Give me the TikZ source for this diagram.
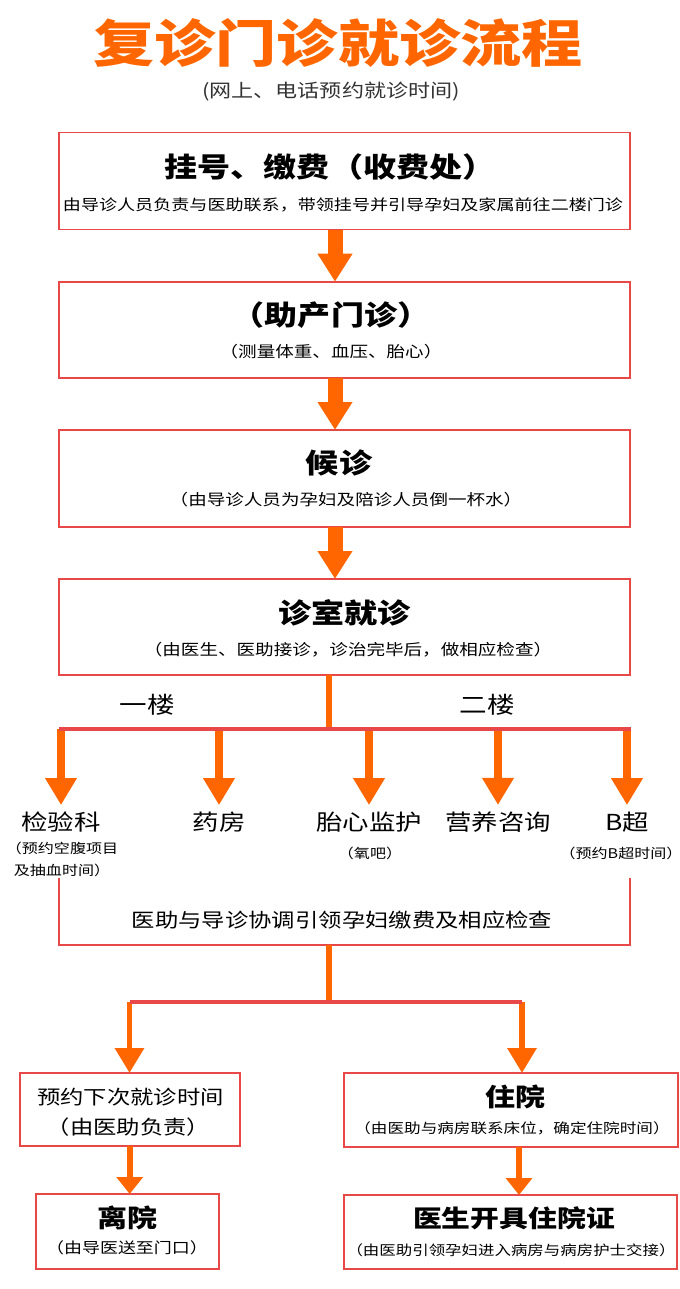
\documentclass[tikz,border=0pt]{standalone}
\usepackage{fontspec}
\setmainfont{Noto Sans CJK SC}[FakeStretch=1.2]
\usetikzlibrary{arrows.meta,positioning}
\definecolor{flowred}{HTML}{E84848}
\definecolor{floworange}{HTML}{FF6600}
\newcommand{\fsz}[1]{\fontsize{#1}{#1}\selectfont}

\begin{document}
\begin{tikzpicture}[
      x=0.03cm, y=-0.03cm,
      every node/.style={inner sep=0pt, outer sep=0pt},
      stepbox/.style={draw=flowred, line width=1.7pt, minimum width=571*0.03cm,
                      minimum height=#1*0.03cm},
      endbox/.style={draw=flowred, line width=1.7pt},
      ttl/.style={font=\bfseries\fsz{23.5}},
      sub/.style={font=\fsz{13.2}},
      dept/.style={font=\fsz{18.8}, outer sep=5.5pt},
      deptsub/.style={font=\fsz{11.4}, align=center},
      stem/.style={floworange, line width=5pt},
      bar/.style={flowred, line width=3.7pt},
      bigarrow/.style={floworange, line width=12.8pt,
                       -{Triangle[length=23.9pt, width=28.2pt]}},
      midarrow/.style={floworange, line width=6pt,
                       -{Triangle[length=23pt, width=25.6pt]}},
      lowarrow/.style={floworange, line width=5pt,
                       -{Triangle[length=21.3pt, width=24pt]}},
      tinyarrow/.style={floworange, line width=5pt,
                       -{Triangle[length=14.5pt, width=22pt]}},
    ]
    \useasboundingbox (0,0) rectangle (680,1289);

    % Title
    \node[font=\bfseries\fsz{43.5}, text=floworange] (title) at (338,43) {复诊门诊就诊流程};
    \node[font=\fsz{15.7}, text=black!80] (subtitle) at (331,92) {(网上、电话预约就诊时间)};

    % Main column of steps
    \node[stepbox=97] (b1) at (344.5,181) {};
    \node[stepbox=96] (b2) at (344.5,329.7) {};
    \node[stepbox=96.6] (b3) at (344.5,478.3) {};
    \node[stepbox=96] (b4) at (344.5,627) {};

    \node[ttl] (t1) at (330,167) {挂号、缴费（收费处）};
    \node[sub, font=\fsz{12.85}] (s1) at (343,205) {由导诊人员负责与医助联系，带领挂号并引导孕妇及家属前往二楼门诊};
    \node[ttl] (t2) at (331,315) {（助产门诊）};
    \node[sub] (s2) at (331,352) {（测量体重、血压、胎心）};
    \node[ttl] (t3) at (339,463) {候诊};
    \node[sub] (s3) at (346,500) {（由导诊人员为孕妇及陪诊人员倒一杯水）};
    \node[ttl] (t4) at (344.5,613) {诊室就诊};
    \node[sub] (s4) at (348,650) {（由医生、医助接诊，诊治完毕后，做相应检查）};

    \coordinate (ax) at (335,0);
    \draw[bigarrow] (b1.south -| ax) -- (b2.north -| ax);
    \draw[bigarrow] (b2.south -| ax) -- (b3.north -| ax);
    \draw[bigarrow] (b3.south -| ax) -- (b4.north -| ax);

    % Split to the departments
    \coordinate (stemx) at (329,0);
    \coordinate (barL) at (59,729);
    \coordinate (barR) at (630.5,729);
    \node[font=\fsz{19.6}] (floor1) at (147,705) {一楼};
    \node[font=\fsz{19.6}] (floor2) at (487,705) {二楼};

    \node[dept] (d1) at (61,821.7) {检验科};
    \node[dept] (d2) at (219,821.7) {药房};
    \node[dept] (d3) at (369,821.7) {胎心监护};
    \node[dept] (d4) at (498,821.7) {营养咨询};
    \node[dept] (d5) at (627,821.7) {B超};
    \node[deptsub, font=\fontsize{11.4}{18.8}\selectfont] (ds1) at (62,859) {（预约空腹项目\\及抽血时间）};
    \node[deptsub] (ds3) at (370,853) {（氧吧）};
    \node[deptsub] (ds5) at (621,853) {（预约B超时间）};

    \draw[stem] (b4.south -| stemx) -- (barL -| stemx);
    \foreach \d in {d1,d2,d3,d4,d5}
      \draw[midarrow] (barL -| \d) -- (\d.north);
    \draw[bar] (barL) -- (barR);

    % Coordinating frame, open at the top
    \node[minimum width=571*0.03cm, minimum height=67*0.03cm] (cb) at (344.5,911.5) {};
    \draw[endbox] (cb.north west) -- (cb.south west) -- (cb.south east) -- (cb.north east);
    \node[font=\fsz{16.6}] (ct) at (342,920) {医助与导诊协调引领孕妇缴费及相应检查};

    % Two ways out
    \node[endbox, minimum width=220*0.03cm, minimum height=73*0.03cm] (l1) at (129.7,1109.5) {};
    \node[endbox, minimum width=334*0.03cm, minimum height=74*0.03cm] (r1) at (511,1110) {};
    \node[endbox, minimum width=183*0.03cm, minimum height=75*0.03cm] (l2) at (127.3,1231.5) {};
    \node[endbox, minimum width=333*0.03cm, minimum height=74*0.03cm] (r2) at (510,1232) {};

    \node[font=\fsz{16.6}] (lt1) at (130.5,1097) {预约下次就诊时间};
    \node[font=\fsz{16.6}] (lt2) at (128.5,1127) {（由医助负责）};
    \node[font=\bfseries\fsz{21.3}] (rt1) at (515,1097) {住院};
    \node[font=\fsz{11.8}] (rs1) at (512,1128) {（由医助与病房联系床位，确定住院时间）};
    \node[font=\bfseries\fsz{21.3}] (lt3) at (127.5,1218) {离院};
    \node[font=\fsz{12.8}] (ls3) at (127,1248) {（由导医送至门口）};
    \node[font=\bfseries\fsz{20.5}] (rt2) at (514,1218) {医生开具住院证};
    \node[font=\fsz{11.7}] (rs2) at (511,1250) {（由医助引领孕妇进入病房与病房护士交接）};

    \coordinate (bar2L) at (129.5,1002);
    \coordinate (bar2R) at (522,1002);
    \coordinate (rline) at (519,0);
    \draw[stem] (cb.south -| stemx) -- (bar2L -| stemx);
    \draw[lowarrow] (bar2L) -- (bar2L |- l1.north);
    \draw[lowarrow] (bar2R) -- (bar2R |- r1.north);
    \draw[bar] (bar2L) -- (bar2R);
    \draw[tinyarrow] (l1.south) -- (l1.south |- l2.north);
    \draw[tinyarrow] (r1.south -| rline) -- (r2.north -| rline);
  \end{tikzpicture}
\end{document}
